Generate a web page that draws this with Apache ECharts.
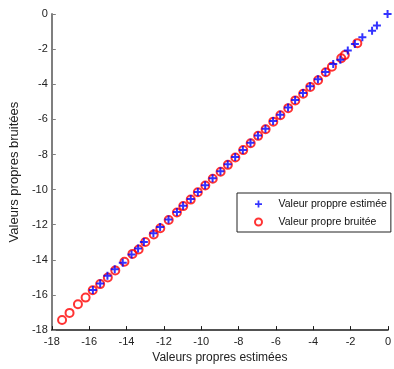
<!DOCTYPE html>
<html>
<head>
<meta charset="utf-8">
<script src="https://cdn.jsdelivr.net/npm/echarts@6/dist/echarts.min.js"></script>
<style>
  html, body { margin: 0; padding: 0; background: #fff; }
  #chart { width: 394px; height: 369px; }
</style>
</head>
<body>
<div id="chart"></div>
<script>
// Estimated eigenvalues (blue crosses)
const estX = [-15.8, -15.41, -15.02, -14.63, -14.2, -13.73, -13.38, -13.07, -12.56, -12.2,
  -11.75, -11.3, -10.97, -10.56, -10.18, -9.79, -9.39, -8.97, -8.58, -8.18,
  -7.77, -7.36, -6.96, -6.56, -6.15, -5.77, -5.35, -4.97, -4.55, -4.17,
  -3.75, -3.35, -2.93, -2.55, -2.15, -1.77, -1.37, -0.85, -0.59, -0.02];
const estY = [-15.72, -15.34, -14.9, -14.53, -14.17, -13.7, -13.36, -12.98, -12.48, -12.13,
  -11.7, -11.27, -10.92, -10.54, -10.13, -9.75, -9.35, -8.95, -8.56, -8.14,
  -7.74, -7.33, -6.92, -6.53, -6.1, -5.74, -5.33, -4.9, -4.5, -4.12,
  -3.72, -3.3, -2.85, -2.6, -2.08, -1.71, -1.32, -0.96, -0.66, 0.0];

// Noisy eigenvalues (red circles)
const noisyX = [-17.45, -17.05, -16.6, -16.19, -15.81, -15.41, -15.0, -14.6, -14.11, -13.68,
  -13.35, -12.99, -12.54, -12.19, -11.74, -11.3, -10.96, -10.56, -10.18, -9.78,
  -9.38, -8.96, -8.57, -8.17, -7.75, -7.35, -6.95, -6.55, -6.14, -5.76,
  -5.34, -4.96, -4.54, -4.16, -3.74, -3.33, -3.0, -2.5, -2.31, -1.64];
const noisyY = [-17.42, -17.02, -16.53, -16.15, -15.73, -15.38, -15.0, -14.6, -14.11, -13.66,
  -13.41, -12.98, -12.55, -12.2, -11.73, -11.3, -10.94, -10.57, -10.15, -9.77,
  -9.38, -8.98, -8.59, -8.17, -7.75, -7.36, -6.94, -6.56, -6.13, -5.77,
  -5.36, -4.92, -4.54, -4.15, -3.77, -3.32, -3.0, -2.52, -2.34, -1.66];

const seriesNames = ['Valeur proppre estimée', 'Valeur propre bruitée'];
const axisNames = ['Valeurs propres estimées', 'Valeurs propres bruitées'];
const axisMin = -18, axisMax = 0, axisStep = 2;

const zip = (xs, ys) => xs.map((x, i) => [x, ys[i]]);
const plusPath = 'path://M3,0H5V3H8V5H5V8H3V5H0V3H3Z';
const font = 'Arial, "Liberation Sans", sans-serif';

const chart = echarts.init(document.getElementById('chart'), null, { renderer: 'canvas' });
chart.setOption({
  animation: false,
  backgroundColor: '#fff',
  grid: { left: 47, right: 1, top: 14, bottom: 37, containLabel: false },
  xAxis: {
    type: 'value', min: axisMin, max: axisMax, interval: axisStep,
    name: axisNames[0], nameLocation: 'middle', nameGap: 20,
    nameTextStyle: { fontFamily: font, fontSize: 12, color: '#222' },
    axisLine: { show: true, onZero: false, lineStyle: { color: '#1a1a1a', width: 1.5 } },
    axisTick: { show: true, inside: true, length: 4, lineStyle: { color: '#1a1a1a', width: 1 } },
    axisLabel: { margin: 6, fontFamily: font, fontSize: 11, color: '#222' },
    splitLine: { show: false }
  },
  yAxis: {
    type: 'value', min: axisMin, max: axisMax, interval: axisStep,
    name: axisNames[1], nameLocation: 'middle', nameGap: 24, nameRotate: 90,
    nameTextStyle: { fontFamily: font, fontSize: 13, color: '#222' },
    axisLine: { show: true, onZero: false, lineStyle: { color: '#7f7f7f', width: 2 } },
    axisTick: { show: true, inside: true, length: 4, lineStyle: { color: '#7f7f7f', width: 1 } },
    axisLabel: { margin: 4, fontFamily: font, fontSize: 11, color: '#222' },
    splitLine: { show: false }
  },
  legend: {
    orient: 'vertical',
    left: 237, top: 193,
    padding: [5.5, 4, 4.5, 17],
    itemWidth: 30, itemHeight: 7, itemGap: 7,
    borderColor: '#222', borderWidth: 1, borderRadius: 0,
    backgroundColor: '#fff',
    textStyle: { fontFamily: font, fontSize: 10.5, color: '#111' },
    data: [
      { name: seriesNames[0], icon: plusPath, itemStyle: { color: '#0000ff' } },
      { name: seriesNames[1], icon: 'circle', itemStyle: { color: 'transparent', borderColor: '#ff0000', borderWidth: 2 } }
    ]
  },
  series: [
    {
      name: seriesNames[1], type: 'scatter', data: zip(noisyX, noisyY),
      symbol: 'circle', symbolSize: 8,
      itemStyle: { color: 'transparent', borderColor: '#ff0000', borderWidth: 2 },
      z: 2
    },
    {
      name: seriesNames[0], type: 'scatter', data: zip(estX, estY),
      symbol: plusPath, symbolSize: 8,
      itemStyle: { color: '#0000ff' },
      z: 3
    }
  ]
});
</script>
</body>
</html>
